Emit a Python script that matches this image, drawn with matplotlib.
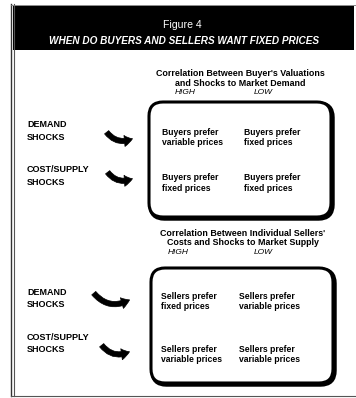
import matplotlib
matplotlib.use("Agg")
import matplotlib.pyplot as plt
from matplotlib.patches import FancyBboxPatch, FancyArrowPatch, Rectangle

plt.rcParams['font.family'] = ['Liberation Sans', 'DejaVu Sans']

fig_title = "Figure 4"
subtitle = "WHEN DO BUYERS AND SELLERS WANT FIXED PRICES"
row_labels = ["DEMAND\nSHOCKS", "COST/SUPPLY\nSHOCKS"]
col_labels = ["HIGH", "LOW"]
panel_titles = ["Correlation Between Buyer's Valuations\nand Shocks to Market Demand",
                "Correlation Between Individual Sellers'\nCosts and Shocks to Market Supply"]
buyer_cells = [["Buyers prefer\nvariable prices", "Buyers prefer\nfixed prices"],
               ["Buyers prefer\nfixed prices", "Buyers prefer\nfixed prices"]]
seller_cells = [["Sellers prefer\nfixed prices", "Sellers prefer\nvariable prices"],
                ["Sellers prefer\nvariable prices", "Sellers prefer\nvariable prices"]]

W, H = 356, 398
fig = plt.figure(figsize=(W / 100, H / 100), dpi=100)
ax = fig.add_axes([0, 0, 1, 1])
ax.set_xlim(0, W)
ax.set_ylim(H, 0)
ax.axis('off')

# outer frame
ax.plot([11, 11], [4, 396], color='#333333', lw=1.0)
ax.plot([14, 14], [4, 396], color='#555555', lw=0.8)
ax.plot([11, 356], [396, 396], color='#555555', lw=0.8)
ax.plot([11, 356], [5, 5], color='#777777', lw=0.6)

# header
ax.add_patch(Rectangle((13, 6), 341, 44, facecolor='black', edgecolor='none'))
ax.text(182, 25, fig_title, color='white', fontsize=7.6, ha='center', va='center')
ax.text(184, 41, subtitle, color='white', fontsize=7.2, fontweight='bold',
        fontstyle='italic', ha='center', va='center')

panels = [
    dict(title_y=78.5, title_x=240, hl_y=92.5, hx=[185, 263], box=(149, 102, 182, 115),
         arrow=[(105, 137), (106, 177)], ax_end=[135, 135],
         cells=buyer_cells, cell_x=[162, 244], cell_y=[137.5, 183], label_y=[131, 176]),
    dict(title_y=238, title_x=243, hl_y=252.5, hx=[178, 263], box=(151, 268, 182, 115),
         arrow=[(92, 298), (100, 350)], ax_end=[132, 132],
         cells=seller_cells, cell_x=[161, 239], cell_y=[301.5, 354.5], label_y=[298.5, 343.5]),
]

for p, ptitle in zip(panels, panel_titles):
    ax.text(p['title_x'], p['title_y'], ptitle, fontsize=6.4, fontweight='bold',
            ha='center', va='center', linespacing=1.05)
    for lab, hx in zip(col_labels, p['hx']):
        ax.text(hx, p['hl_y'], lab, fontsize=6.0, fontstyle='italic', ha='center', va='center')
    x0, y0, bw, bh = p['box']
    # shadow
    ax.add_patch(FancyBboxPatch((x0 + 1.5, y0 + 1.5), bw, bh,
                                boxstyle="round,pad=0,rounding_size=14",
                                facecolor='none', edgecolor='black', lw=3.2))
    ax.add_patch(FancyBboxPatch((x0, y0), bw, bh,
                                boxstyle="round,pad=0,rounding_size=14",
                                facecolor='white', edgecolor='black', lw=2.2))
    for r in range(2):
        ax.text(27, p['label_y'][r], row_labels[r], fontsize=6.5, fontweight='bold',
                ha='left', va='center', linespacing=1.45)
        sx, sy = p['arrow'][r]
        ex = p['ax_end'][r]
        arr = FancyArrowPatch((sx, sy - 7), (ex, sy + 0.5),
                              connectionstyle="arc3,rad=0.45",
                              arrowstyle="simple,head_length=6,head_width=8,tail_width=3.8",
                              color='black', lw=0.5, mutation_scale=1)
        ax.add_patch(arr)
        for c in range(2):
            ax.text(p['cell_x'][c], p['cell_y'][r], p['cells'][r][c],
                    fontsize=6.2, fontweight='bold', ha='left', va='center',
                    linespacing=1.25)

fig.savefig('out.png', dpi=100)
